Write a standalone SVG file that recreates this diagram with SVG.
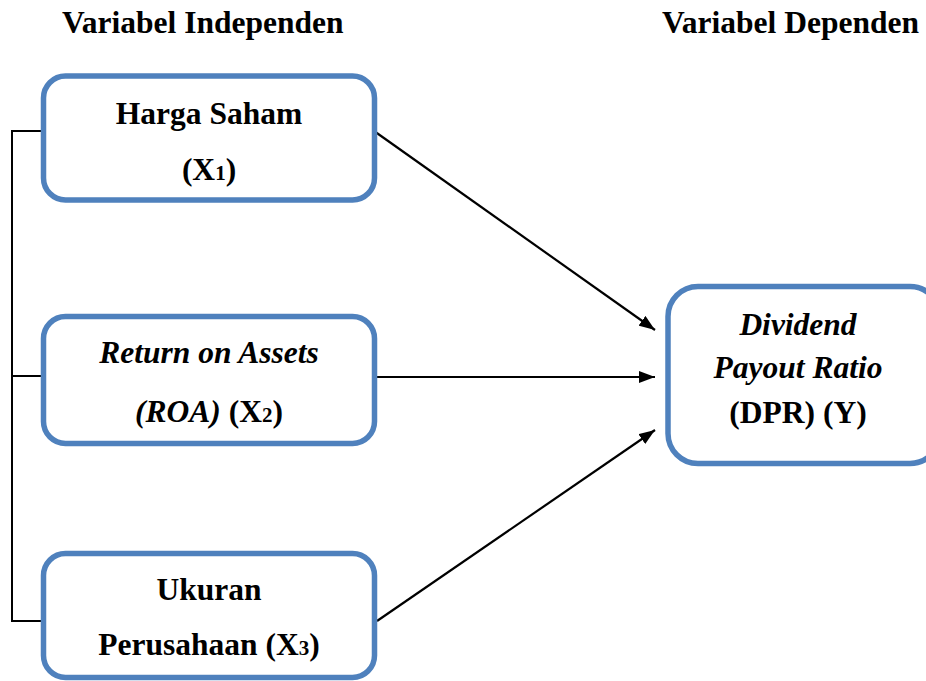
<svg xmlns="http://www.w3.org/2000/svg" width="926" height="681" viewBox="0 0 926 681">
<defs>
<marker id="ah" viewBox="0 0 16 12" refX="16" refY="6" markerWidth="16" markerHeight="12" markerUnits="userSpaceOnUse" orient="auto">
<path d="M0,0 L16,6 L0,12 z" fill="#000"/>
</marker>
<style>
.box{fill:#fff;stroke:#4F81BD;stroke-width:5.5}
.t{font-family:"Liberation Serif","Times New Roman",serif;font-size:31.5px;font-weight:bold;fill:#000;text-anchor:middle}
.h{font-family:"Liberation Serif","Times New Roman",serif;font-size:31.5px;font-weight:bold;fill:#000}
.i{font-style:italic}
.sub{font-size:21px}
.ln{stroke:#000;stroke-width:2;fill:none}
.ar{stroke:#000;stroke-width:2.2;fill:none}
</style>
</defs>
<rect width="926" height="681" fill="#fff"/>
<text class="h" x="62" y="33">Variabel Independen</text>
<text class="h" x="662" y="33">Variabel Dependen</text>
<g id="connectors">
<path class="ln" d="M43,131 H12 V621 H43 M12,376 H43"/>
<line class="ar" x1="374" y1="131" x2="655" y2="330" marker-end="url(#ah)"/>
<line class="ar" x1="377" y1="377" x2="655" y2="377" marker-end="url(#ah)"/>
<line class="ar" x1="377" y1="621" x2="655" y2="430" marker-end="url(#ah)"/>
</g>
<g id="x1">
<rect class="box" x="43.5" y="76" width="331" height="124" rx="22"/>
<text class="t" x="209" y="124">Harga Saham</text>
<text class="t" x="209" y="180">(X<tspan class="sub">1</tspan>)</text>
</g>
<g id="x2">
<rect class="box" x="43.5" y="316.5" width="331" height="127" rx="22"/>
<text class="t i" x="209" y="363">Return on Assets</text>
<text class="t" x="209" y="422"><tspan class="i">(ROA)</tspan> (X<tspan class="sub">2</tspan>)</text>
</g>
<g id="x3">
<rect class="box" x="43.5" y="553.5" width="331" height="124" rx="22"/>
<text class="t" x="209" y="600">Ukuran</text>
<text class="t" x="209" y="655">Perusahaan (X<tspan class="sub">3</tspan>)</text>
</g>
<g id="y">
<rect class="box" x="668" y="286.5" width="272" height="177" rx="30"/>
<text class="t i" x="798" y="335">Dividend</text>
<text class="t i" x="798" y="378">Payout Ratio</text>
<text class="t" x="798" y="423">(DPR) (Y)</text>
</g>
</svg>
